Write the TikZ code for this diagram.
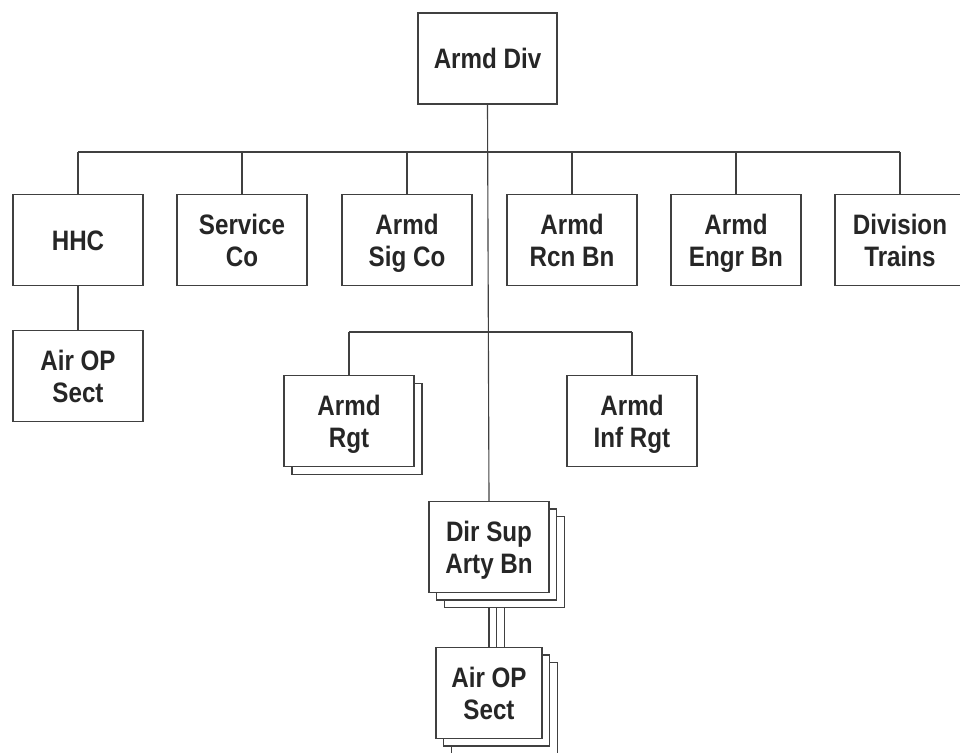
\documentclass[tikz,border=0pt]{standalone}
\usepackage{fontspec}
\setmainfont{Liberation Sans}[FakeStretch=0.86]
\usetikzlibrary{shadows, backgrounds}

\begin{document}
\begin{tikzpicture}[
    x=0.25mm, y=-0.25mm,
    unit/.style={rectangle, draw=black!75, fill=white, line width=0.9pt, font=\bfseries\fontsize{20}{23}\selectfont, text=black!85, text height=37.6pt, text depth=0pt, minimum height=22.75mm, minimum width=32.5mm, align=center, inner sep=0pt},
    oneline/.style={text height=14.6pt},
    stacktwo/.style={unit, copy shadow={shadow xshift=2mm, shadow yshift=-2mm, draw=black!75, fill=white, line width=0.9pt}},
    stackthree/.style={unit, double copy shadow={shadow xshift=1.9mm, shadow yshift=-1.9mm, draw=black!75, fill=white, line width=0.9pt}},
    link/.style={draw=black!75, line width=0.8pt}
]
    \useasboundingbox (0,0) rectangle (960,753);

    % Division HQ
    \node[unit, oneline, minimum width=34.75mm] (armddiv) at (487.5, 58.5) {Armd Div};

    % Division units
    \node[unit, oneline] (hhc) at (78, 240) {HHC};
    \node[unit] (svcco) at (242, 240) {Service\\Co};
    \node[unit] (sigco) at (407, 240) {Armd\\Sig Co};
    \node[unit] (rcnbn) at (572, 240) {Armd\\Rcn Bn};
    \node[unit] (engrbn) at (736, 240) {Armd\\Engr Bn};
    \node[unit] (trains) at (900, 240) {Division\\Trains};

    \node[unit] (airopa) at (78, 376) {Air OP\\Sect};

    % Regiments
    \node[stacktwo] (armdrgt) at (349, 421) {Armd\\Rgt};
    \node[unit] (infrgt) at (632, 421) {Armd\\Inf Rgt};

    % Artillery
    \node[stackthree, minimum width=30mm] (arty) at (489, 547) {Dir Sup\\Arty Bn};
    \node[stackthree, minimum width=26.5mm] (airopb) at (489, 693) {Air OP\\Sect};

    % Connectors
    \coordinate (bar) at (0, 152);
    \coordinate (bartwo) at (0, 332);
    \begin{scope}[on background layer]
        \draw[link] (armddiv.south) -- (arty.north);
        \draw[link] (bar -| hhc) -- (bar -| trains);
        \foreach \u in {hhc, svcco, sigco, rcnbn, engrbn, trains}
            \draw[link] (\u.north) -- (bar -| \u);
        \draw[link] (hhc.south) -- (airopa.north);
        \draw[link] (bartwo -| armdrgt) -- (bartwo -| infrgt);
        \draw[link] (armdrgt.north) -- (bartwo -| armdrgt);
        \draw[link] (infrgt.north) -- (bartwo -| infrgt);
        \foreach \k in {0, 1, 2}
            \draw[link] ([xshift=\k*1.9mm]arty.south) -- ([xshift=\k*1.9mm]airopb.north);
    \end{scope}

\end{tikzpicture}
\end{document}
